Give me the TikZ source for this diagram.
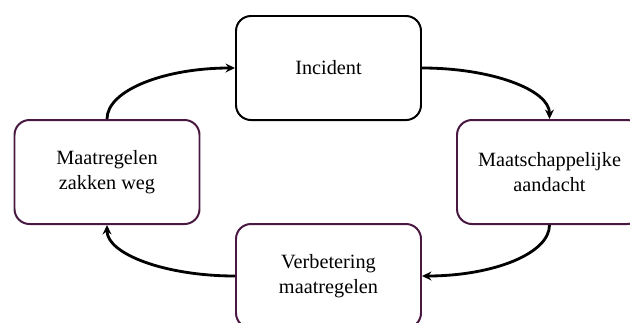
\documentclass[tikz,border=0pt]{standalone}
\usepackage{fontspec}
\setmainfont{Liberation Serif}
\usetikzlibrary{arrows.meta,
  positioning,
  shapes
}
\definecolor{boxpurple}{HTML}{4A1942}
\def\boxwidth{5.55}
\def\boxheight{3.12}
\def\bendx{2.1}
\def\bendy{0.87}

\begin{document}
\begin{tikzpicture}[
    stage/.style={draw, rounded corners=0.45cm, line width=1.7, align=center,
      minimum width=\boxwidth cm, minimum height=\boxheight cm, inner sep=0,
      font=\fontsize{17.3}{21.3}\selectfont},
    cycle/.style={->, >={Stealth[length=8pt, width=7.5pt]}, line width=2.4}
  ]
  \useasboundingbox (0, 0) rectangle (18.9, -9.66);

  % stages
  \node[stage] (incident) at (9.855, -2.04) {Incident};
  \node[stage, boxpurple] (aandacht) at (16.485, -5.16) {\color{black}Maatschappelijke\\\color{black}aandacht};
  \node[stage, boxpurple] (verbetering) at (9.855, -8.28) {\color{black}Verbetering\\\color{black}maatregelen};
  \node[stage, boxpurple] (wegzakken) at (3.21, -5.16) {\color{black}Maatregelen\\\color{black}zakken weg};

  % arrows
  \draw[cycle] (incident.east) .. controls +(\bendx, 0) and +(0, \bendy) .. (aandacht.north);
  \draw[cycle] (aandacht.south) .. controls +(0, -\bendy) and +(\bendx, 0) .. (verbetering.east);
  \draw[cycle] (verbetering.west) .. controls +(-\bendx, 0) and +(0, -\bendy) .. (wegzakken.south);
  \draw[cycle] (wegzakken.north) .. controls +(0, \bendy) and +(-\bendx, 0) .. (incident.west);
\end{tikzpicture}
\end{document}
